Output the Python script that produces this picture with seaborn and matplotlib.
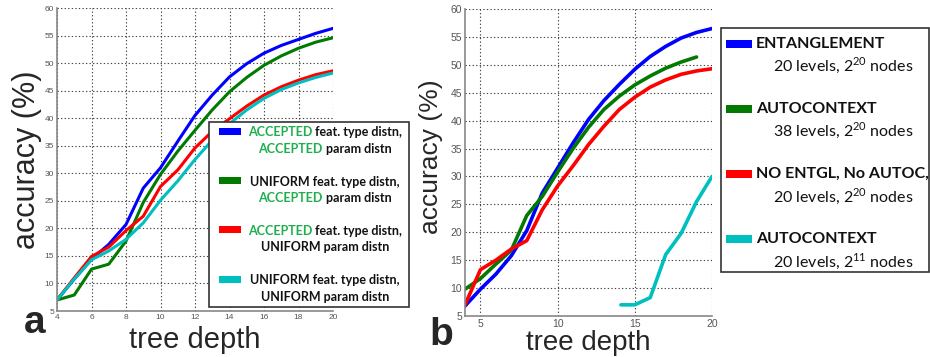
import numpy as np
import pandas as pd
import matplotlib
matplotlib.use("Agg")
import matplotlib.pyplot as plt
from matplotlib.patches import Rectangle
import seaborn as sns

# ---- data ----
depth_a = list(range(4, 21))
acc_a_blue = [7.0, 10.8, 14.4, 17.1, 20.7, 27.3, 31.0, 35.8, 40.5, 44.2, 47.5, 49.9, 51.8, 53.2, 54.3, 55.4, 56.3]
acc_a_green = [7.0, 7.9, 12.6, 13.5, 17.7, 24.7, 29.8, 34.0, 37.8, 41.5, 44.8, 47.4, 49.6, 51.3, 52.7, 53.8, 54.6]
acc_a_red = [7.0, 11.0, 14.9, 16.6, 19.6, 22.2, 27.6, 30.6, 34.6, 37.6, 39.9, 42.2, 44.2, 45.7, 46.9, 47.9, 48.6]
acc_a_cyan = [7.0, 10.8, 14.3, 15.9, 18.0, 21.0, 25.1, 28.6, 32.5, 36.0, 39.0, 41.5, 43.6, 45.2, 46.4, 47.4, 48.2]

depth_b = list(range(4, 21))
acc_b_blue = [6.8, 9.8, 12.5, 15.8, 20.3, 27.0, 31.5, 36.0, 40.2, 43.6, 46.5, 49.2, 51.5, 53.3, 54.8, 55.8, 56.5]
depth_b_green = list(range(4, 20))
acc_b_green = [9.8, 11.7, 14.3, 16.8, 23.0, 26.4, 30.8, 35.0, 38.8, 42.0, 44.4, 46.4, 48.0, 49.4, 50.5, 51.4]
acc_b_red = [7.0, 13.3, 15.0, 17.0, 18.5, 24.0, 28.3, 31.9, 35.7, 39.0, 42.0, 44.2, 46.0, 47.3, 48.3, 48.9, 49.3]
depth_b_cyan = [14.1, 15, 16, 17, 18, 19, 20]
acc_b_cyan = [7.0, 7.0, 8.3, 16.0, 19.8, 25.5, 30.0]

colors = {"blue": "#0000ff", "green": "#007a00", "red": "#ff0000", "cyan": "#00bfbf"}
accepted_green = "#1fae4e"

df_a = pd.concat([
    pd.DataFrame({"depth": depth_a, "acc": acc_a_blue, "series": "blue"}),
    pd.DataFrame({"depth": depth_a, "acc": acc_a_green, "series": "green"}),
    pd.DataFrame({"depth": depth_a, "acc": acc_a_red, "series": "red"}),
    pd.DataFrame({"depth": depth_a, "acc": acc_a_cyan, "series": "cyan"}),
])
df_b = pd.concat([
    pd.DataFrame({"depth": depth_b, "acc": acc_b_blue, "series": "blue"}),
    pd.DataFrame({"depth": depth_b_green, "acc": acc_b_green, "series": "green"}),
    pd.DataFrame({"depth": depth_b, "acc": acc_b_red, "series": "red"}),
    pd.DataFrame({"depth": depth_b_cyan, "acc": acc_b_cyan, "series": "cyan"}),
])

sns.set_style("white")
plt.rcParams["font.family"] = ["Liberation Sans", "DejaVu Sans"]
plt.rcParams["mathtext.fontset"] = "custom"
plt.rcParams["mathtext.rm"] = "Lato"

W, H = 930, 357
fig = plt.figure(figsize=(W / 100, H / 100), dpi=100)


def fx(x):
    return x / W


def fy(y):
    return 1 - y / H


ax_a = fig.add_axes([fx(57), fy(311), fx(333) - fx(57), fy(8) - fy(311)])
ax_b = fig.add_axes([fx(465), fy(316), fx(712) - fx(465), fy(9) - fy(316)])

for ax, df, lw, tsize, xt in [(ax_a, df_a, 2.2, 6, range(4, 21, 2)),
                              (ax_b, df_b, 2.6, 7.5, [5, 10, 15, 20])]:
    sns.lineplot(data=df, x="depth", y="acc", hue="series", palette=colors,
                 linewidth=lw, legend=False, ax=ax, sort=False)
    ax.set_xlim(4, 20)
    ax.set_ylim(5, 60)
    ax.set_xticks(list(xt))
    ax.set_yticks(range(5, 61, 5))
    ax.grid(True, linestyle=(0, (1.2, 2)), color="#444444", linewidth=0.8)
    for s in ["top", "right"]:
        ax.spines[s].set_visible(False)
    for s in ["left", "bottom"]:
        ax.spines[s].set_color("#888888")
        ax.spines[s].set_linewidth(1.2)
    ax.tick_params(direction="in", length=3, width=0.8, color="#666666",
                   labelsize=tsize, labelcolor="#555555", pad=2)

ax_a.set_xlabel("tree depth", fontsize=21)
ax_a.xaxis.set_label_coords(0.5, -0.05)
ax_b.set_xlabel("tree depth", fontsize=20)
ax_b.xaxis.set_label_coords(0.5, -0.045)

ax_a.set_ylabel("accuracy (%)", fontsize=22, labelpad=2)
ax_b.set_ylabel("accuracy (%)", fontsize=19, labelpad=2)
ax_b.yaxis.set_label_coords(-0.09, 0.52)

fig.text(fx(24), fy(333), "a", fontsize=28, fontweight="bold", ha="left", va="baseline")
fig.text(fx(429), fy(345), "b", fontsize=28, fontweight="bold", ha="left", va="baseline")

renderer = fig.canvas.get_renderer()


def legend_box(x0, y0, x1, y1):
    fig.patches.append(Rectangle((fx(x0), fy(y1)), fx(x1) - fx(x0), fy(y0) - fy(y1),
                                 transform=fig.transFigure, facecolor="white",
                                 edgecolor="#333333", linewidth=1.2, zorder=5))


def handle(x0, x1, yc, h, color):
    fig.patches.append(Rectangle((fx(x0), fy(yc + h / 2)), fx(x1) - fx(x0), fy(yc - h / 2) - fy(yc + h / 2),
                                 transform=fig.transFigure, facecolor=color,
                                 edgecolor="none", zorder=6))


def centered_line(xc, yc, text, prefix, size):
    kw = dict(fontsize=size, fontweight="bold", family="Lato", va="center", zorder=7)
    if not prefix:
        fig.text(fx(xc), fy(yc), text, ha="center", color="#111111", **kw)
        return
    # measure the whole line, then place the coloured word and the rest side by side
    probe = fig.text(fx(xc), fy(yc), text, ha="center", **kw)
    bb = probe.get_window_extent(renderer)
    probe.remove()
    rest = text[len(prefix):].strip()
    fig.text(bb.x0 / W, fy(yc), prefix, ha="left", color=accepted_green, **kw)
    fig.text(bb.x1 / W, fy(yc), rest, ha="right", color="#111111", **kw)


# legend of panel a
legend_box(209, 122, 409, 307)
rows_a = [
    ("blue", ("ACCEPTED feat. type distn,", "ACCEPTED"), ("ACCEPTED param distn", "ACCEPTED")),
    ("green", ("UNIFORM feat. type distn,", None), ("ACCEPTED param distn", "ACCEPTED")),
    ("red", ("ACCEPTED feat. type distn,", "ACCEPTED"), ("UNIFORM param distn", None)),
    ("cyan", ("UNIFORM feat. type distn,", None), ("UNIFORM param distn", None)),
]
for i, (c, l1, l2) in enumerate(rows_a):
    y1 = 132.5 + i * 49.2
    handle(219, 241, y1 - 1, 7, colors[c])
    centered_line(325, y1, l1[0], l1[1], 9)
    centered_line(325, y1 + 16.5, l2[0], l2[1], 9)

# legend of panel b
legend_box(721, 28, 929, 272)
rows_b = [
    ("blue", "ENTANGLEMENT", "20 levels, 2$^{20}$ nodes"),
    ("green", "AUTOCONTEXT", "38 levels, 2$^{20}$ nodes"),
    ("red", "NO ENTGL, No AUTOC,", "20 levels, 2$^{20}$ nodes"),
    ("cyan", "AUTOCONTEXT", "20 levels, 2$^{11}$ nodes"),
]
for i, (c, l1, l2) in enumerate(rows_b):
    y1 = 43.5 + i * 65.3
    handle(726, 752, y1, 8, colors[c])
    fig.text(fx(756), fy(y1), l1, fontsize=11.5, fontweight="bold", family="Lato",
             ha="left", va="center", color="#111111", zorder=7)
    fig.text(fx(773), fy(y1 + 21.5), l2, fontsize=11.5, family="Lato",
             ha="left", va="center", color="#111111", zorder=7)

fig.savefig("out.png", dpi=100)
